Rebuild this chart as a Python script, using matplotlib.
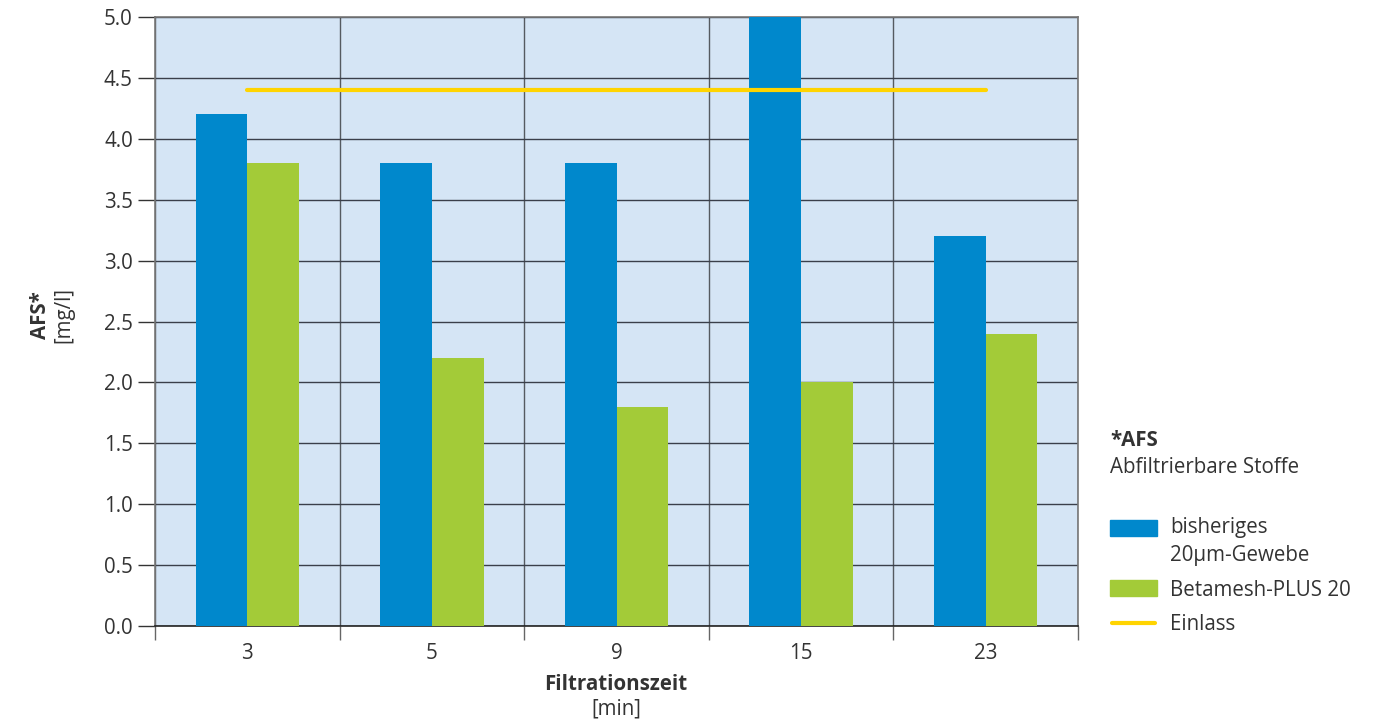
import matplotlib
matplotlib.use("Agg")
import matplotlib.pyplot as plt
from matplotlib.patches import Rectangle
from matplotlib.lines import Line2D
import numpy as np

categories = ["3", "5", "9", "15", "23"]
bisheriges = [4.2, 3.8, 3.8, 5.0, 3.2]
betamesh = [3.8, 2.2, 1.8, 2.0, 2.4]
einlass = [4.4, 4.4]
y_ticks = [0.0, 0.5, 1.0, 1.5, 2.0, 2.5, 3.0, 3.5, 4.0, 4.5, 5.0]

BLUE = "#0088CC"
GREEN = "#A3CB38"
YELLOW = "#FFD400"
BG = "#D5E5F5"
TXT = "#333333"
FONT = "Open Sans"
FS = 14.8

plt.rcParams['font.family'] = [FONT, 'DejaVu Sans']

W, H = 1386, 724
fig = plt.figure(figsize=(W/100, H/100), dpi=100)
ax = fig.add_axes([155/W, (H-626)/H, (1078-155)/W, (626-17)/H])
ax.set_facecolor(BG)

x = np.arange(len(categories))
bw = 0.28
ax.bar(x - bw/2, bisheriges, width=bw, color=BLUE, zorder=3)
ax.bar(x + bw/2, betamesh, width=bw, color=GREEN, zorder=3)
ax.plot([x[0], x[-1]], einlass, color=YELLOW, lw=3, solid_capstyle='round', zorder=4)

ax.set_xlim(-0.5, len(categories) - 0.5)
ax.set_ylim(0, 5.0)
ax.set_yticks(y_ticks)
ax.set_yticklabels([f"{v:.1f}" for v in y_ticks], fontsize=FS, color=TXT)
ax.set_xticks(np.arange(len(categories) + 1) - 0.5)
ax.set_xticklabels([])
ax.set_xticks(x, minor=True)
ax.set_xticklabels(categories, minor=True, fontsize=FS, color=TXT)
ax.tick_params(axis='x', which='major', length=10, width=1, color="#666666", direction='out')
ax.tick_params(axis='x', which='minor', length=0, pad=12)
ax.tick_params(axis='y', length=12, width=1, color="#333333", pad=4)

ax.grid(True, axis='y', color="#3a3f4a", lw=1, zorder=1)
ax.grid(True, axis='x', which='major', color="#555a60", lw=1, zorder=1)
for s in ['left', 'top', 'right']:
    ax.spines[s].set_color("#777777")
    ax.spines[s].set_linewidth(1.2)
ax.spines['bottom'].set_color("#222222")
ax.spines['bottom'].set_linewidth(1.2)
ax.set_axisbelow(True)

# axis labels
fig.text(41/W, 1 - 315/H, "AFS*", rotation=90, ha='center', va='center', fontsize=FS, fontweight='bold', color=TXT)
fig.text(64/W, 1 - 315/H, "[mg/l]", rotation=90, ha='center', va='center', fontsize=FS, color=TXT)
fig.text(616/W, 1 - 685/H, "Filtrationszeit", ha='center', va='center', fontsize=FS, fontweight='bold', color=TXT)
fig.text(616/W, 1 - 709/H, "[min]", ha='center', va='center', fontsize=FS, color=TXT)

# legend / note
fig.text(1110/W, 1 - 440/H, "*AFS", ha='left', va='center', fontsize=FS, fontweight='bold', color=TXT)
fig.text(1110/W, 1 - 467/H, "Abfiltrierbare Stoffe", ha='left', va='center', fontsize=FS, color=TXT)
fig.patches.append(Rectangle((1110/W, 1 - 536/H), 47/W, 16/H, transform=fig.transFigure, color=BLUE))
fig.patches.append(Rectangle((1110/W, 1 - 596/H), 47/W, 16/H, transform=fig.transFigure, color=GREEN))
fig.lines.append(Line2D([1112/W, 1155/W], [1 - 623/H, 1 - 623/H], transform=fig.transFigure, color=YELLOW, lw=3, solid_capstyle='round'))
fig.text(1170/W, 1 - 528/H, "bisheriges", ha='left', va='center', fontsize=FS, color=TXT)
fig.text(1170/W, 1 - 555/H, "20µm-Gewebe", ha='left', va='center', fontsize=FS, color=TXT)
fig.text(1170/W, 1 - 590/H, "Betamesh-PLUS 20", ha='left', va='center', fontsize=FS, color=TXT)
fig.text(1170/W, 1 - 624/H, "Einlass", ha='left', va='center', fontsize=FS, color=TXT)

fig.savefig("out.png", dpi=100)
